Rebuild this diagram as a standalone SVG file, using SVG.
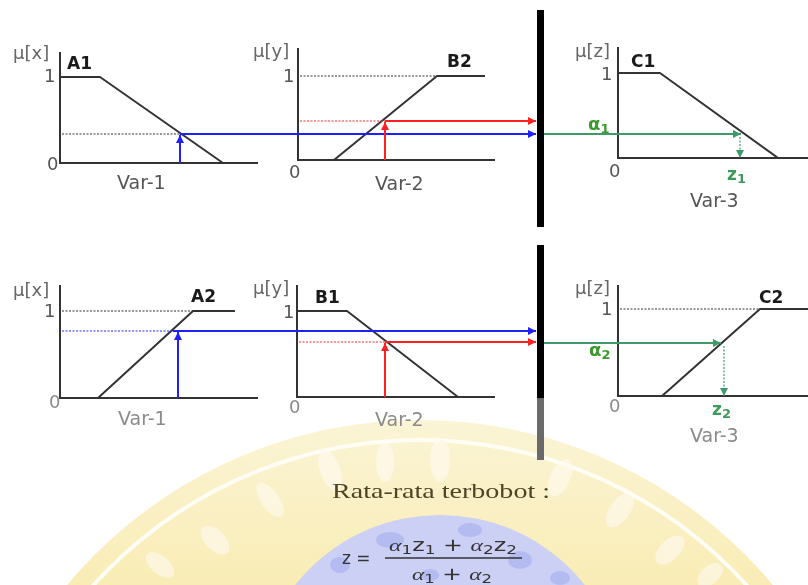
<svg xmlns="http://www.w3.org/2000/svg" width="808" height="585" viewBox="0 0 808 585">
<style>
.ax{stroke:#333;stroke-width:2;fill:none}
.mf{stroke:#333;stroke-width:2;fill:none;stroke-linejoin:round}
.dk{stroke:#333;stroke-width:1.2;stroke-dasharray:2 1.5;fill:none}
.db{stroke:#2a2aff;stroke-width:1.2;stroke-dasharray:2 1.5;fill:none}
.dr{stroke:#ff2a2a;stroke-width:1.2;stroke-dasharray:2 1.5;fill:none}
.dg{stroke:#3f9a6a;stroke-width:1.2;stroke-dasharray:2 1.5;fill:none}
.bl{stroke:#1f1fff;stroke-width:2;fill:none}
.rd{stroke:#ff2020;stroke-width:2;fill:none}
.gr{stroke:#3f9a6a;stroke-width:2;fill:none}
.lb{font-family:"DejaVu Sans",Verdana,sans-serif;font-size:18px;fill:#555}
.vr{font-family:"DejaVu Sans",Verdana,sans-serif;font-size:19px;fill:#555}
.lb2{font-family:"DejaVu Sans",Verdana,sans-serif;font-size:18px;fill:#8a8a8a}
.vr2{font-family:"DejaVu Sans",Verdana,sans-serif;font-size:19px;fill:#8a8a8a}
.mu{font-family:"DejaVu Sans",Verdana,sans-serif;font-size:18px;fill:#666}
.nm{font-family:"DejaVu Sans",Verdana,sans-serif;font-size:17px;font-weight:bold;fill:#1a1a1a}
.ga{font-family:"DejaVu Sans",Verdana,sans-serif;font-size:18px;font-weight:bold;fill:#3a9a2e}
.gz{font-family:"DejaVu Sans",Verdana,sans-serif;font-size:17px;font-weight:bold;fill:#3f9a5a}
.fm{font-family:"DejaVu Sans",Verdana,sans-serif;font-size:17px;fill:#333}
.gk{font-family:"Liberation Serif",serif;font-style:italic}
</style>
<defs>
<marker id="ab" viewBox="0 0 10 10" refX="10" refY="5" markerWidth="9" markerHeight="8" markerUnits="userSpaceOnUse" orient="auto"><path d="M0,0L10,5L0,10z" fill="#1f1fff"/></marker>
<marker id="ar" viewBox="0 0 10 10" refX="10" refY="5" markerWidth="9" markerHeight="8" markerUnits="userSpaceOnUse" orient="auto"><path d="M0,0L10,5L0,10z" fill="#ff2020"/></marker>
<marker id="ag" viewBox="0 0 10 10" refX="10" refY="5" markerWidth="9" markerHeight="8" markerUnits="userSpaceOnUse" orient="auto"><path d="M0,0L10,5L0,10z" fill="#3f9a6a"/></marker>
<linearGradient id="fade" x1="0" y1="420" x2="0" y2="585" gradientUnits="userSpaceOnUse">
<stop offset="0" stop-color="#fbf3cf"/>
<stop offset="1" stop-color="#f8e9a8"/>
</linearGradient>
</defs>

<g id="watermark" opacity="0.85">
<circle cx="420" cy="880" r="460" fill="url(#fade)"/>
<circle cx="420" cy="880" r="440" fill="none" stroke="#fffdf2" stroke-width="4"/>
<g fill="#fffaf0" opacity="0.6">
<ellipse cx="330" cy="470" rx="10" ry="22" transform="rotate(-20 330 470)"/>
<ellipse cx="385" cy="462" rx="9" ry="20"/>
<ellipse cx="440" cy="460" rx="10" ry="22"/>
<ellipse cx="270" cy="500" rx="9" ry="20" transform="rotate(-35 270 500)"/>
<ellipse cx="215" cy="540" rx="10" ry="18" transform="rotate(-45 215 540)"/>
<ellipse cx="160" cy="565" rx="9" ry="17" transform="rotate(-50 160 565)"/>
<ellipse cx="560" cy="478" rx="10" ry="20" transform="rotate(25 560 478)"/>
<ellipse cx="620" cy="510" rx="10" ry="20" transform="rotate(35 620 510)"/>
<ellipse cx="670" cy="550" rx="10" ry="18" transform="rotate(45 670 550)"/>
<ellipse cx="710" cy="575" rx="9" ry="15" transform="rotate(50 710 575)"/>
</g>
<circle cx="440" cy="700" r="185" fill="#c3c8f3"/>
<g fill="#a1aaee" opacity="0.8">
<ellipse cx="390" cy="540" rx="14" ry="8"/>
<ellipse cx="470" cy="530" rx="12" ry="7"/>
<ellipse cx="340" cy="565" rx="10" ry="8"/>
<ellipse cx="520" cy="560" rx="12" ry="9"/>
<ellipse cx="560" cy="578" rx="10" ry="7"/>
<ellipse cx="430" cy="575" rx="9" ry="6"/>
</g>
</g>

<g id="bars">
<rect x="537" y="10" width="7" height="217" fill="#000"/>
<rect x="537" y="245" width="7" height="153" fill="#000"/>
<rect x="537" y="398" width="7" height="62" fill="#6a6a6a"/>
</g>

<g id="panel-a1">
<path class="ax" d="M60,52V163H258"/>
<path class="mf" d="M60,77H100L223,163"/>
<path class="dk" d="M62,134H180"/>
<text class="mu" x="13" y="59">μ[x]</text>
<text class="nm" x="67" y="69">A1</text>
<text class="lb" x="44" y="82">1</text>
<text class="lb" x="47" y="170">0</text>
<text class="vr" x="117" y="189">Var-1</text>
</g>

<g id="panel-b2">
<path class="ax" d="M298,48V160H495"/>
<path class="mf" d="M334,160L437,76H485"/>
<path class="dk" d="M300,76H437"/>
<path class="dr" d="M300,121H385"/>
<text class="mu" x="253" y="57">μ[y]</text>
<text class="nm" x="447" y="67">B2</text>
<text class="lb" x="283" y="82">1</text>
<text class="lb" x="289" y="178">0</text>
<text class="vr" x="375" y="190">Var-2</text>
</g>

<g id="panel-c1">
<path class="ax" d="M618,47V158H808"/>
<path class="mf" d="M618,73H660L778,158"/>
<text class="mu" x="575" y="57">μ[z]</text>
<text class="nm" x="631" y="67">C1</text>
<text class="lb" x="601" y="80">1</text>
<text class="lb" x="609" y="177">0</text>
<text class="ga" x="588" y="130">α<tspan font-size="13" dy="3">1</tspan></text>
<text class="gz" x="727" y="180">z<tspan font-size="13" dy="3">1</tspan></text>
<text class="vr" x="690" y="207" fill="#666">Var-3</text>
</g>

<g id="panel-a2">
<path class="ax" d="M60,285V398H258"/>
<path class="mf" d="M98,398L193,311H235"/>
<path class="dk" d="M62,311H193"/>
<path class="db" d="M62,331H173"/>
<text class="mu" x="13" y="296">μ[x]</text>
<text class="nm" x="191" y="302">A2</text>
<text class="lb" x="44" y="317">1</text>
<text class="lb2" x="49" y="408">0</text>
<text class="vr2" x="118" y="425">Var-1</text>
</g>

<g id="panel-b1">
<path class="ax" d="M297,285V397H495"/>
<path class="mf" d="M297,311H347L458,397"/>
<path class="dr" d="M299,342H385"/>
<text class="mu" x="253" y="294">μ[y]</text>
<text class="nm" x="315" y="303">B1</text>
<text class="lb" x="283" y="318">1</text>
<text class="lb2" x="289" y="413">0</text>
<text class="vr2" x="375" y="426">Var-2</text>
</g>

<g id="panel-c2">
<path class="ax" d="M618,285V396H808"/>
<path class="mf" d="M662,396L760,309H808"/>
<path class="dk" d="M620,309H760"/>
<text class="mu" x="575" y="294">μ[z]</text>
<text class="nm" x="759" y="303">C2</text>
<text class="lb" x="601" y="315">1</text>
<text class="lb2" x="609" y="412">0</text>
<text class="ga" x="589" y="356">α<tspan font-size="13" dy="3">2</tspan></text>
<text class="gz" x="712" y="415" fill="#4fa86a">z<tspan font-size="13" dy="3">2</tspan></text>
<text class="vr2" x="690" y="442">Var-3</text>
</g>

<g id="connectors">
<path class="bl" d="M180,163V135" marker-end="url(#ab)"/>
<path class="bl" d="M180,134H536" marker-end="url(#ab)"/>
<path class="rd" d="M385,160V122" marker-end="url(#ar)"/>
<path class="rd" d="M385,121H536" marker-end="url(#ar)"/>
<path class="gr" d="M544,134H741" marker-end="url(#ag)"/>
<path class="dg" d="M740,137V158" marker-end="url(#ag)"/>
<path class="bl" d="M178,398V332" marker-end="url(#ab)"/>
<path class="bl" d="M173,331H536" marker-end="url(#ab)"/>
<path class="rd" d="M385,397V343" marker-end="url(#ar)"/>
<path class="rd" d="M385,342H536" marker-end="url(#ar)"/>
<path class="gr" d="M544,343H721" marker-end="url(#ag)"/>
<path class="dg" d="M724,346V396" marker-end="url(#ag)"/>
</g>

<g id="formula">
<text x="332" y="498" font-family="'Liberation Serif','Times New Roman',serif" font-size="21" fill="#4d4426" textLength="218" lengthAdjust="spacingAndGlyphs">Rata-rata terbobot :</text>
<text class="fm" x="342" y="564">z =</text>
<text class="fm" x="389" y="551" textLength="128" lengthAdjust="spacingAndGlyphs"><tspan class="gk">α</tspan><tspan font-size="12" dy="3">1</tspan><tspan dy="-3">z</tspan><tspan font-size="12" dy="3">1</tspan><tspan dy="-3"> + </tspan><tspan class="gk">α</tspan><tspan font-size="12" dy="3">2</tspan><tspan dy="-3">z</tspan><tspan font-size="12" dy="3">2</tspan></text>
<line x1="385" y1="558" x2="522" y2="558" stroke="#333" stroke-width="1.3"/>
<text class="fm" x="412" y="580" textLength="80" lengthAdjust="spacingAndGlyphs"><tspan class="gk">α</tspan><tspan font-size="12" dy="3">1</tspan><tspan dy="-3"> + </tspan><tspan class="gk">α</tspan><tspan font-size="12" dy="3">2</tspan></text>
</g>
</svg>
